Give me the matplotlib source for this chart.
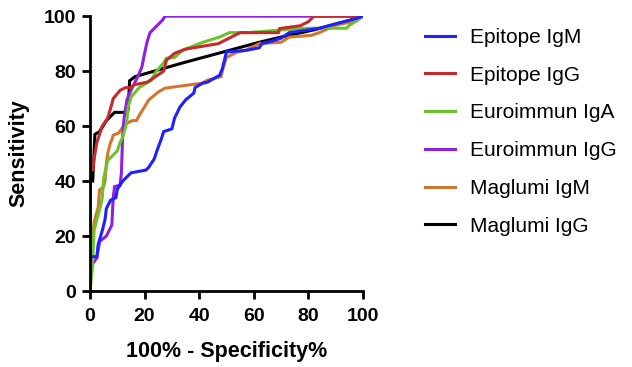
import numpy as np
import matplotlib
matplotlib.use("Agg")
import matplotlib.pyplot as plt

# ROC curves (x = 100% - specificity, y = sensitivity)
epitope_igm_x = [0, 0, 2.5, 3, 4.5, 5.5, 6, 7.5, 9.5, 10, 12, 15, 20.5, 21.5, 23.5, 24.5, 26, 27, 30, 31, 33, 35,
                 38, 38.5, 41, 43, 47.5, 48.5, 50, 57, 62, 63, 67, 70, 73, 84, 91, 97, 100]
epitope_igm_y = [0, 12.5, 12.5, 17, 22, 26, 30, 33, 34, 37, 40, 43, 44, 45, 48, 51, 55, 58, 59, 63, 67, 69.5,
                 72, 74, 75.5, 76, 78.5, 81, 87, 87.5, 88.5, 90, 91, 92, 94, 95.6, 97.5, 99, 100]

epitope_igg_x = [0, 0, 1, 1.5, 2.5, 4.5, 6.5, 8, 8.5, 11, 13, 15, 16, 21, 24, 27, 28, 31, 35, 47, 49, 55, 69,
                 69.5, 77, 80, 82, 100]
epitope_igg_y = [0, 44, 44, 48, 54, 60, 63, 68, 70, 73, 74, 74, 75, 76, 78, 80, 84, 86.5, 88, 90, 91, 94, 94,
                 95.5, 96.5, 98, 100, 100]

euro_iga_x = [0, 0.5, 1, 1.5, 2.5, 3.5, 4.5, 5, 6.5, 8, 10, 11, 12, 13, 13.5, 14, 15, 18, 22.5, 24, 27, 28, 31,
              34, 40, 43, 47.5, 51, 58, 70, 80, 94, 95, 98, 100]
euro_iga_y = [0, 5, 12, 22, 26, 29.5, 34, 41, 47.6, 49, 51, 54, 56, 59.6, 62, 67, 70.5, 74, 76.7, 79.6, 83,
              84.7, 85, 87.6, 90, 91, 92.4, 94, 94, 95, 95.6, 95.6, 96.7, 98.5, 100]

euro_igg_x = [0, 0, 1, 2.5, 3.5, 6, 8, 8.5, 9, 11, 11.5, 12, 12.5, 13.5, 15, 17.5, 19, 20, 21, 22, 24, 26.5,
              27.5, 100]
euro_igg_y = [0, 3, 10, 12, 18, 20, 24, 34, 38, 38.5, 43, 57.5, 63, 69.5, 73, 78, 81.5, 86.5, 91, 94, 96, 98.5,
              100, 100]

maglumi_igm_x = [0, 0.5, 1, 1.5, 3, 3.5, 5, 5.5, 6, 6.5, 7.5, 8, 8.5, 10.5, 12, 13.5, 15.5, 17, 18.5, 20, 21.5,
                 25, 27.5, 41, 43, 48, 49, 50, 52, 54, 57, 62, 70, 73, 81, 84, 90, 96, 100]
maglumi_igm_y = [0, 8, 20, 25, 30.5, 36.7, 38, 40, 46.5, 50, 54, 55, 56.7, 57.5, 59.6, 61, 62, 62, 64.7, 67,
                 69.5, 72.4, 73.8, 75.6, 76.7, 78, 82, 85, 86, 87, 87.6, 90, 90.5, 92.4, 93, 94, 96.7, 98, 100]

maglumi_igg_x = [0, 0, 1, 1.8, 3.5, 6, 9, 13.5, 14, 14.5, 16.5, 34, 62, 70, 82, 92, 100]
maglumi_igg_y = [0, 40, 40, 57, 58, 62, 65, 65, 66, 76.5, 78, 83, 90.5, 92.4, 95, 97.5, 100]

curves = [
    ("Epitope IgM", epitope_igm_x, epitope_igm_y, "#1f1fff"),
    ("Epitope IgG", epitope_igg_x, epitope_igg_y, "#c42a2e"),
    ("Euroimmun IgA", euro_iga_x, euro_iga_y, "#6cc22a"),
    ("Euroimmun IgG", euro_igg_x, euro_igg_y, "#9020e0"),
    ("Maglumi IgM", maglumi_igm_x, maglumi_igm_y, "#d2752e"),
    ("Maglumi IgG", maglumi_igg_x, maglumi_igg_y, "black"),
]

plt.rcParams["font.family"] = ["Liberation Sans", "DejaVu Sans"]

fig = plt.figure(figsize=(6.32, 3.67), dpi=100)
ax = fig.add_axes([0.1424, 0.207, 0.432, 0.749])

# draw in reverse so Epitope IgM ends up on top
for label, x, y, c in curves[::-1]:
    ax.plot(x, y, color=c, lw=2.2, label=label, solid_joinstyle="miter")

ax.set_xlim(0, 100)
ax.set_ylim(0, 100)
ax.set_xticks(np.arange(0, 101, 20))
ax.set_yticks(np.arange(0, 101, 20))
for s in ["top", "right"]:
    ax.spines[s].set_visible(False)
for s in ["left", "bottom"]:
    ax.spines[s].set_linewidth(2)
ax.tick_params(direction="out", length=6, width=2, labelsize=14, pad=4)
ax.tick_params(axis="x", pad=6)
for t in ax.get_xticklabels() + ax.get_yticklabels():
    t.set_fontweight("bold")
ax.set_xlabel("100% - Specificity%", fontsize=15.5, fontweight="bold", labelpad=12)
ax.set_ylabel("Sensitivity", fontsize=15.5, fontweight="bold", labelpad=10)

handles, labels = ax.get_legend_handles_labels()
fig.legend(handles[::-1], labels[::-1], loc="upper left", bbox_to_anchor=(0.643, 0.975),
           frameon=False, fontsize=15, handlelength=1.45, handletextpad=0.7, labelspacing=0.9)

fig.savefig("out.png", dpi=100)
